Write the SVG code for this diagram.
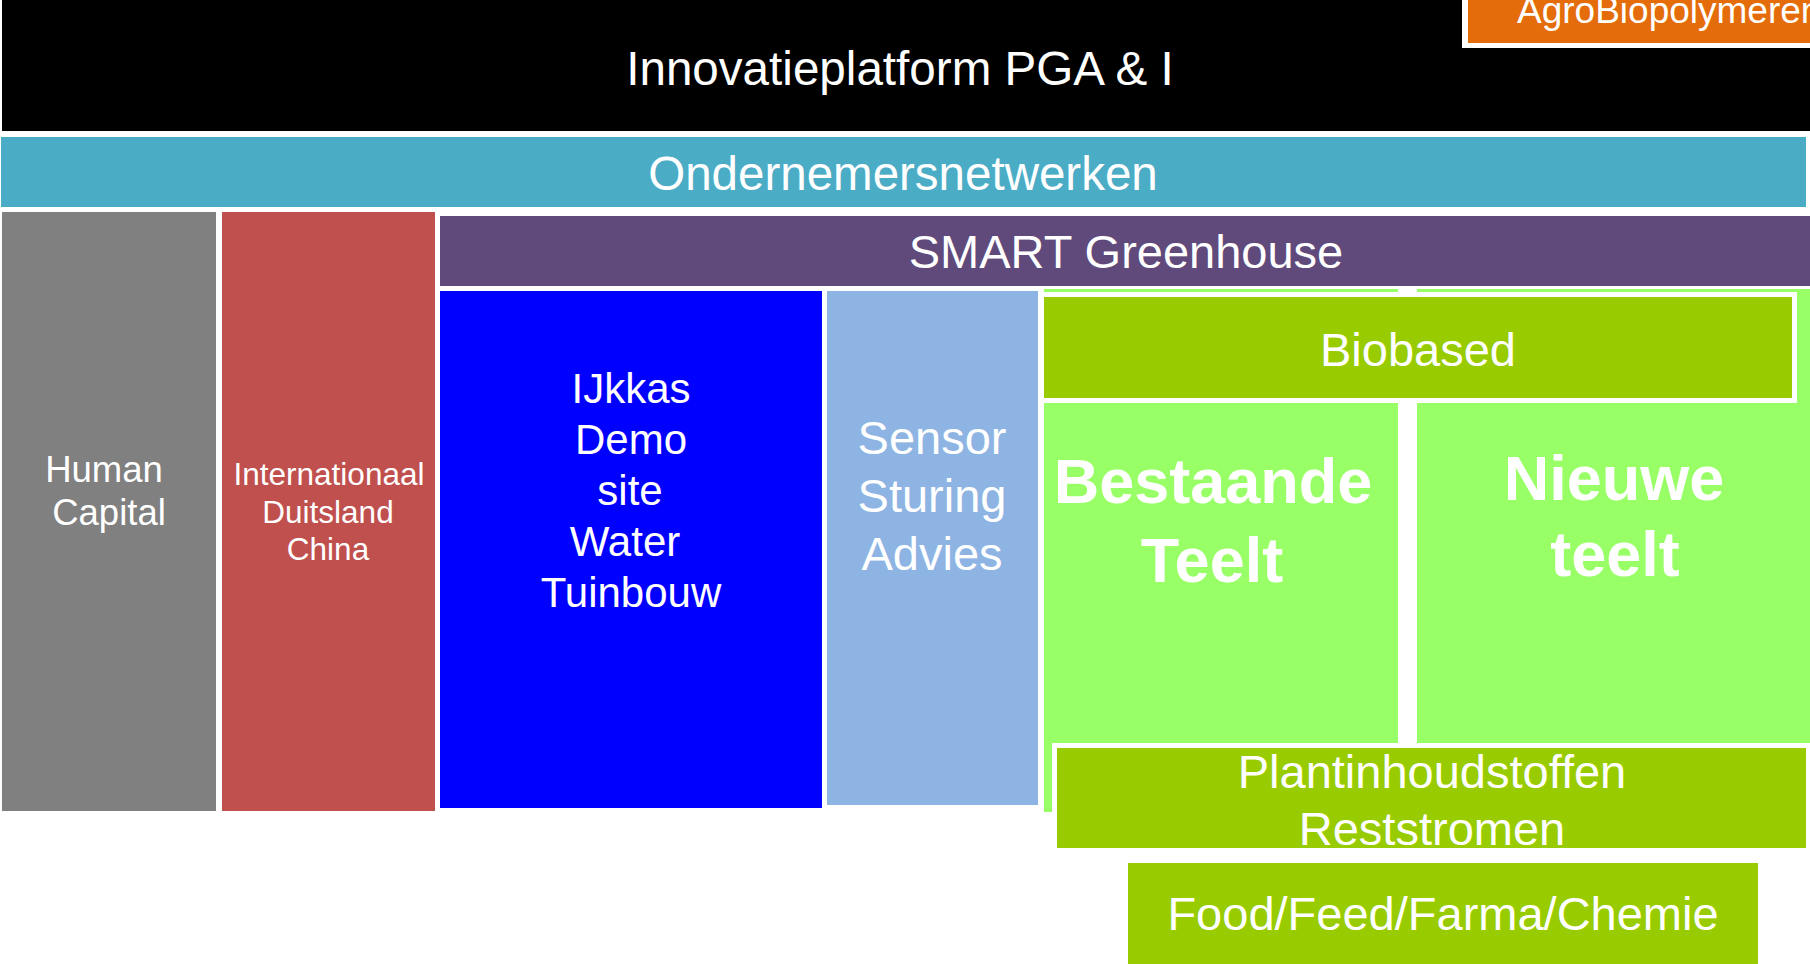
<svg xmlns="http://www.w3.org/2000/svg" width="1810" height="964" viewBox="0 0 1810 964">
<style>
text{font-family:"Liberation Sans",Arial,sans-serif;fill:#ffffff;text-anchor:middle}
.b{font-weight:bold;font-size:63px}
.m{font-size:47px}
</style>
<rect width="1810" height="964" fill="#ffffff"/>
<g id="innovatieplatform">
<rect x="2" y="0" width="1808" height="131" fill="#000000"/>
<text x="900" y="85" style="font-size:47.6px">Innovatieplatform PGA &amp; I</text>
</g>
<g id="agrobiopolymeren">
<rect x="1462" y="-5" width="353" height="53" fill="#ffffff"/>
<rect x="1468" y="0" width="342" height="43" fill="#E46C0A"/>
<text x="1517" y="23" style="font-size:37px;text-anchor:start">AgroBiopolymeren</text>
</g>
<g id="ondernemersnetwerken">
<rect x="1" y="137" width="1805" height="70" fill="#4BACC6"/>
<text x="903" y="190" style="font-size:47.5px">Ondernemersnetwerken</text>
</g>
<g id="human-capital">
<rect x="2" y="212" width="214" height="599" fill="#808080"/>
<text x="104" y="482" style="font-size:36.5px">Human</text>
<text x="109" y="525" style="font-size:36.5px">Capital</text>
</g>
<g id="internationaal">
<rect x="222" y="212" width="213" height="599" fill="#C0504D"/>
<text x="329" y="485" style="font-size:31.5px">Internationaal</text>
<text x="328" y="523" style="font-size:31.5px">Duitsland</text>
<text x="328" y="560" style="font-size:31.5px">China</text>
</g>
<g id="smart-greenhouse">
<rect x="440" y="216" width="1370" height="70" fill="#604A7B"/>
<text class="m" x="1126" y="268">SMART Greenhouse</text>
</g>
<g id="ijkkas">
<rect x="440" y="291" width="382" height="517" fill="#0000FF"/>
<text x="631" y="403" style="font-size:42px">IJkkas</text>
<text x="631" y="454" style="font-size:42px">Demo</text>
<text x="630" y="505" style="font-size:42px">site</text>
<text x="625" y="556" style="font-size:42px">Water</text>
<text x="631" y="607" style="font-size:42px">Tuinbouw</text>
</g>
<g id="sensor">
<rect x="827" y="291" width="211" height="514" fill="#8EB4E3"/>
<text class="m" x="932" y="454">Sensor</text>
<text class="m" x="932" y="512">Sturing</text>
<text class="m" x="932" y="570">Advies</text>
</g>
<g id="bestaande-teelt">
<rect x="1044" y="289" width="354" height="523" fill="#99FF66"/>
<text class="b" x="1213" y="503">Bestaande</text>
<text class="b" x="1212" y="582">Teelt</text>
</g>
<g id="nieuwe-teelt">
<rect x="1417" y="289" width="393" height="523" fill="#99FF66"/>
<text class="b" x="1614" y="500">Nieuwe</text>
<text class="b" x="1615" y="576">teelt</text>
</g>
<g id="biobased">
<rect x="1041.5" y="294.5" width="753" height="106" fill="#99CC00" stroke="#ffffff" stroke-width="5"/>
<text class="m" x="1418" y="366">Biobased</text>
</g>
<g id="plantinhoudstoffen">
<rect x="1052" y="743" width="758" height="110" fill="#ffffff"/>
<rect x="1057" y="748" width="749" height="100" fill="#99CC00"/>
<text class="m" x="1432" y="788">Plantinhoudstoffen</text>
<text class="m" x="1432" y="845">Reststromen</text>
</g>
<g id="food">
<rect x="1128" y="863" width="630" height="101" fill="#99CC00"/>
<text class="m" x="1443" y="930">Food/Feed/Farma/Chemie</text>
</g>
<g id="connectors"></g>
</svg>
